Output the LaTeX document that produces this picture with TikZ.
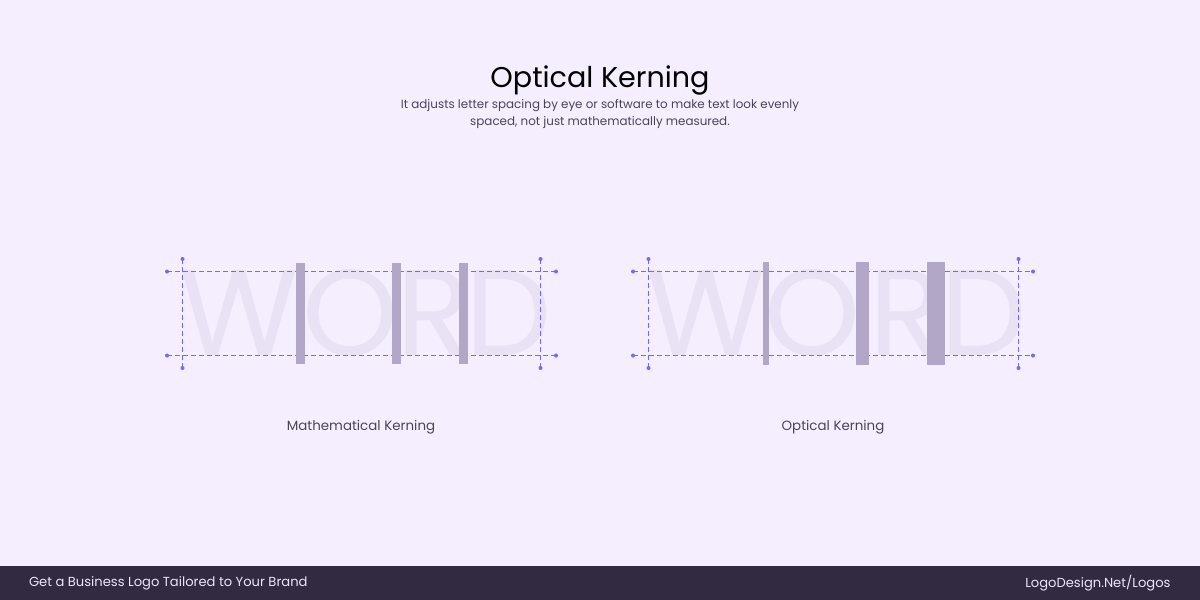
\documentclass[tikz,border=0pt]{standalone}
\usepackage{fontspec}
\setmainfont{Poppins}
\definecolor{pagebg}{HTML}{F4EEFF}
\definecolor{footbg}{HTML}{322A41}
\definecolor{guidecol}{HTML}{7466FF}
\definecolor{barcol}{HTML}{B3A7C7}
\definecolor{lettercol}{HTML}{E9E1F4}
\definecolor{textgray}{HTML}{4A4458}
\definecolor{foottext}{HTML}{ECE4F8}

\begin{document}
\begin{tikzpicture}[x=1pt,y=-1pt,
    guide/.style={draw=guidecol,line width=1pt,dash pattern=on 5pt off 3pt},
    dot/.style={circle,fill=guidecol,inner sep=0pt,minimum size=4pt},
    bar/.style={fill=barcol,draw=none},
    letter/.style={anchor=base,inner sep=0pt,text=lettercol,
      font=\fontsize{122}{122}\selectfont},
    caption/.style={text=textgray,font=\fontsize{13.4}{16}\selectfont}]
  \fill[pagebg] (0,0) rectangle (1200,600);
  \useasboundingbox (0,0) rectangle (1200,600);
  % heading
  \node[font=\fontsize{28.6}{32}\selectfont,text=black] (title) at (600,80) {Optical Kerning};
  \node[font=\fontsize{11.9}{17}\selectfont,text=textgray,align=center] (sub) at (600,114)
    {It adjusts letter spacing by eye or software to make text look evenly\\
     spaced, not just mathematically measured.};

  % left: mathematical kerning
  \node[letter] (lw) at (239,355) {W};
  \node[letter] (lo) at (350,355) {O};
  \node[letter] (lr) at (434,355) {R};
  \node[letter] (ld) at (509,355) {D};
  \coordinate (lt1) at (167,271.5); \coordinate (lt2) at (556,271.5);
  \coordinate (lb1) at (167,355.5); \coordinate (lb2) at (556,355.5);
  \coordinate (ll1) at (182.5,259); \coordinate (ll2) at (182.5,368);
  \coordinate (lr1) at (540.5,259); \coordinate (lr2) at (540.5,368);
  \draw[guide] (lt1) -- (lt2);
  \draw[guide] (lb1) -- (lb2);
  \draw[guide] (ll1) -- (ll2);
  \draw[guide] (lr1) -- (lr2);
  \foreach \p in {lt1,lt2,lb1,lb2,ll1,ll2,lr1,lr2} \node[dot] at (\p) {};
  \fill[bar] (296,263) rectangle (305,364);
  \fill[bar] (392,263) rectangle (401,364);
  \fill[bar] (459,263) rectangle (468,364);
  \node[caption] (lcap) at (361,427) {Mathematical Kerning};

  % right: optical kerning
  \node[letter] (rw) at (706,355) {W};
  \node[letter] (ro) at (812,355) {O};
  \node[letter] (rr) at (907,355) {R};
  \node[letter] (rd) at (984,355) {D};
  \coordinate (rt1) at (633,271.5); \coordinate (rt2) at (1033,271.5);
  \coordinate (rb1) at (633,355.5); \coordinate (rb2) at (1033,355.5);
  \coordinate (rl1) at (648.5,259); \coordinate (rl2) at (648.5,368);
  \coordinate (rr1) at (1018.5,259); \coordinate (rr2) at (1018.5,368);
  \draw[guide] (rt1) -- (rt2);
  \draw[guide] (rb1) -- (rb2);
  \draw[guide] (rl1) -- (rl2);
  \draw[guide] (rr1) -- (rr2);
  \foreach \p in {rt1,rt2,rb1,rb2,rl1,rl2,rr1,rr2} \node[dot] at (\p) {};
  \fill[bar] (763,262) rectangle (769,365);
  \fill[bar] (856,262) rectangle (869,365);
  \fill[bar] (927,262) rectangle (945,365);
  \node[caption] (rcap) at (833,427) {Optical Kerning};

  % footer
  \fill[footbg] (0,566) rectangle (1200,600);
  \node[anchor=west,text=foottext,font=\fontsize{13.1}{16}\selectfont] (fl) at (25.5,583)
    {Get a Business Logo Tailored to Your Brand};
  \node[anchor=east,text=foottext,font=\fontsize{13.1}{16}\selectfont] (fr) at (1174,583)
    {LogoDesign.Net/Logos};
\end{tikzpicture}
\end{document}
